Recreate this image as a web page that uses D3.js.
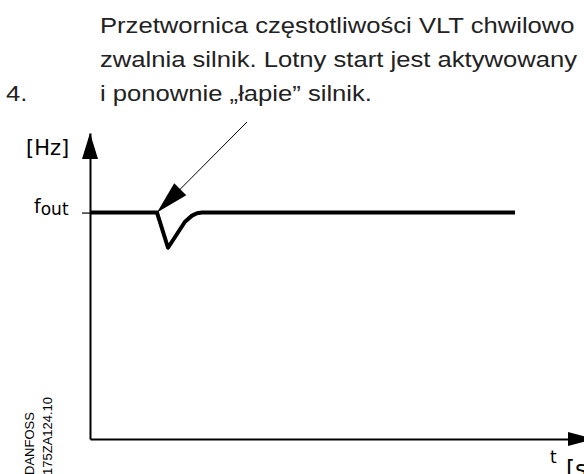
<!DOCTYPE html>
<meta charset="utf-8">

<!-- Flying start: VLT output frequency dips and is caught again. -->

<head>
    <style>
        body {
            margin: 0;
            background: #fff;
        }

        .caption {
            font-family: "Liberation Sans", Arial, sans-serif;
            font-size: 22px;
            fill: #222;
        }

        .lbl {
            font-family: "DejaVu Sans", sans-serif;
            fill: #000;
        }

        .code {
            font-family: "Liberation Sans", Arial, sans-serif;
            font-size: 13px;
            fill: #000;
        }
    </style>
</head>

<body>
    <script src="https://d3js.org/d3.v7.min.js"></script>

    <div id="chart"></div>

    <script>
        // caption text
        var stepLabel = "4.";
        var captionLines = [
            "Przetwornica częstotliwości VLT chwilowo",
            "zwalnia silnik. Lotny start jest aktywowany",
            "i ponownie \u201ełapie\u201d silnik."
        ];

        // frequency curve (time in arbitrary units, frequency as % of axis)
        var times = [0, 13.4, 15.6, 19.0, 20.4, 21.4, 22.4, 85];
        var freqs = [74, 74, 62.5, 71.0, 73.0, 73.8, 74, 74];
        var fOut = 74;

        // annotation arrow: from -> catch point
        var arrowFrom = [31.4, 103.6];
        var arrowTo = [13.4, 74];

        // axis labels
        var yLabel = "[Hz]";
        var xLabel = "t";
        var xUnit = "[s";
        var codeLines = ["DANFOSS", "175ZA124.10"];

        var W = 584, H = 474;
        var capScale = 1.165;

        var svg = d3.select("#chart").append("svg")
            .attr("width", W)
            .attr("height", H);

        // scales
        var x = d3.scaleLinear().domain([0, 100]).range([90, 590]);
        var y = d3.scaleLinear().domain([0, 100]).range([439, 133]);

        /** caption **/
        var cap = svg.append("g")
            .attr("class", "caption")
            .attr("transform", "scale(" + capScale + ",1)");

        cap.append("text")
            .attr("x", 6 / capScale)
            .attr("y", 101)
            .text(stepLabel);

        cap.selectAll("text.line")
            .data(captionLines)
            .enter()
            .append("text")
            .attr("class", "line")
            .attr("x", 100 / capScale)
            .attr("y", function (d, i) { return 33 + i * 34; })
            .text(function (d) { return d; });

        /** axes **/
        var yAxis = svg.append("g")
            .attr("transform", "translate(" + x(0) + ",0)")
            .call(d3.axisLeft(y).tickValues([fOut]).tickSize(8).tickSizeOuter(0).tickFormat(""));
        yAxis.select(".domain").attr("stroke-width", 2);
        yAxis.selectAll(".tick line").attr("stroke-width", 1.2);

        var xAxis = svg.append("g")
            .attr("transform", "translate(0," + y(0) + ")")
            .call(d3.axisBottom(x).tickValues([]).tickSizeOuter(0));
        xAxis.select(".domain").attr("stroke-width", 2);

        // arrow heads on axes
        svg.append("path")
            .attr("d", "M" + x(0) + "," + y(100) +
                "L" + (x(0) - 8) + "," + (y(100) + 26) +
                "L" + (x(0) + 8) + "," + (y(100) + 26) + "Z")
            .attr("fill", "#000");

        svg.append("path")
            .attr("d", "M" + (x(100) + 5) + "," + y(0) +
                "L" + (x(100) - 22) + "," + (y(0) - 7) +
                "L" + (x(100) - 22) + "," + (y(0) + 7) + "Z")
            .attr("fill", "#000");

        // axis labels
        svg.append("text")
            .attr("class", "lbl")
            .attr("x", 26)
            .attr("y", 155)
            .style("font-size", "21px")
            .text(yLabel);

        var fl = svg.append("text")
            .attr("class", "lbl")
            .attr("x", 34)
            .attr("y", y(fOut))
            .style("font-size", "19px");
        fl.append("tspan").text("f");
        fl.append("tspan")
            .attr("dy", 2)
            .style("font-size", "17px")
            .text("out");

        svg.append("text")
            .attr("class", "lbl")
            .attr("x", 550)
            .attr("y", 463)
            .style("font-size", "17px")
            .text(xLabel);

        // unit is clipped by the right/bottom edge, as in the source drawing
        svg.append("text")
            .attr("class", "lbl")
            .attr("x", 566)
            .attr("y", 477)
            .style("font-size", "23px")
            .text(xUnit);

        // drawing code
        svg.selectAll("text.code")
            .data(codeLines)
            .enter()
            .append("text")
            .attr("class", "code")
            .attr("transform", function (d, i) { return "translate(" + (34 + i * 18) + ",475) rotate(-90)"; })
            .text(function (d) { return d; });

        /** frequency curve **/
        var line = d3.line()
            .x(function (d) { return x(d[0]); })
            .y(function (d) { return y(d[1]); });

        svg.append("path")
            .datum(d3.zip(times, freqs))
            .attr("d", line)
            .attr("fill", "none")
            .attr("stroke", "#000")
            .attr("stroke-width", 4)
            .attr("stroke-linejoin", "round");

        /** annotation arrow **/
        svg.append("defs").append("marker")
            .attr("id", "head")
            .attr("markerUnits", "userSpaceOnUse")
            .attr("markerWidth", 40)
            .attr("markerHeight", 20)
            .attr("viewBox", "-34 -10 36 20")
            .attr("refX", 0)
            .attr("refY", 0)
            .attr("orient", "auto")
            .append("path")
            .attr("d", "M0,0L-33,-8.5L-33,8.5Z")
            .attr("fill", "#000");

        svg.append("path")
            .datum([arrowFrom, arrowTo])
            .attr("d", line)
            .attr("fill", "none")
            .attr("stroke", "#000")
            .attr("stroke-width", 1)
            .attr("marker-end", "url(#head)");
    </script>
</body>
